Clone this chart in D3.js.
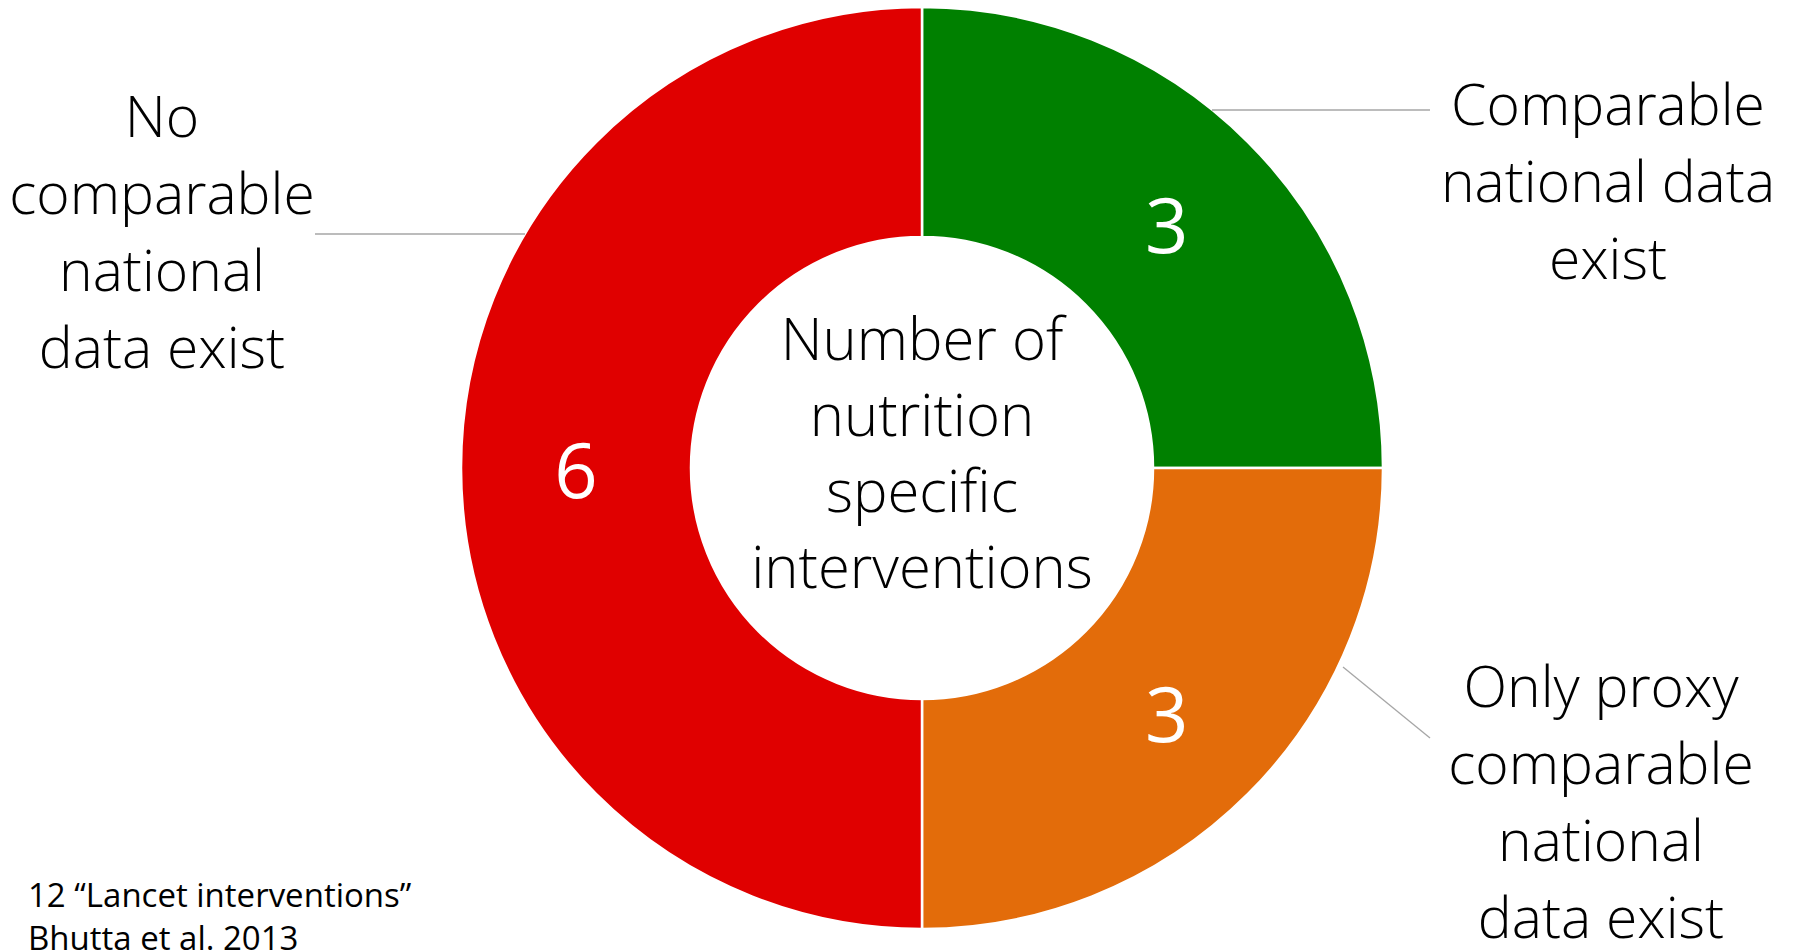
<!DOCTYPE html>
<html>
<head>
<meta charset="utf-8">
<script src="https://cdn.jsdelivr.net/npm/d3@7"></script>
<style>
  html, body { margin: 0; padding: 0; background: #ffffff; }
  svg { display: block; }
  text { font-family: "Open Sans", "DejaVu Sans", sans-serif; }
</style>
</head>
<body>
<svg id="chart" width="1794" height="951"></svg>
<script>
// ---- data ----
const categories = ["Comparable national data exist", "Only proxy comparable national data exist", "No comparable national data exist"];
const values = [3, 3, 6];
const colors = ["#008000", "#E36C0A", "#E00000"];
const labelLines = [
  ["Comparable", "national data", "exist"],
  ["Only proxy", "comparable", "national", "data exist"],
  ["No", "comparable", "national", "data exist"]
];
const centerLines = ["Number of", "nutrition", "specific", "interventions"];
const footnoteLines = ["12 \u201CLancet interventions\u201D", "Bhutta et al. 2013"];

// ---- layout ----
const W = 1794, H = 951;
const cx = 922, cy = 468;
const outerR = 461, innerR = 231;
const labelR = (outerR + innerR) / 2;
const lineH = 77;
// category label anchors (center x, first baseline y) and leader line ends
const labelLayout = [
  { x: 1608, y: 125, leader: [[1212, 110], [1430, 110]] },
  { x: 1601, y: 707, leader: [[1343, 667], [1430, 738]] },
  { x: 162,  y: 137, leader: [[525, 234], [315, 234]] }
];

const svg = d3.select("#chart");
const g = svg.append("g").attr("transform", `translate(${cx},${cy})`);

const pie = d3.pie().sort(null).value(d => d);
const arcs = pie(values);
const arc = d3.arc().innerRadius(innerR).outerRadius(outerR);
const labelArc = d3.arc().innerRadius(labelR).outerRadius(labelR);

g.selectAll("path.slice")
  .data(arcs)
  .join("path")
  .attr("class", "slice")
  .attr("d", arc)
  .attr("fill", (d, i) => colors[i])
  .attr("stroke", "#ffffff")
  .attr("stroke-width", 2.5);

g.selectAll("text.value")
  .data(arcs)
  .join("text")
  .attr("class", "value")
  .attr("x", d => labelArc.centroid(d)[0])
  .attr("y", d => labelArc.centroid(d)[1])
  .attr("text-anchor", "middle")
  .attr("dominant-baseline", "central")
  .attr("fill", "#ffffff")
  .attr("font-size", 76)
  .text(d => d.data);

// center text
const ct = svg.append("text")
  .attr("text-anchor", "middle")
  .attr("font-size", 58)
  .attr("font-weight", 300)
  .attr("fill", "#000");
centerLines.forEach((t, i) => {
  ct.append("tspan").attr("x", cx).attr("y", 360 + i * 76).text(t);
});

// leader lines
svg.selectAll("line.leader")
  .data(labelLayout)
  .join("line")
  .attr("class", "leader")
  .attr("x1", d => d.leader[0][0]).attr("y1", d => d.leader[0][1])
  .attr("x2", d => d.leader[1][0]).attr("y2", d => d.leader[1][1])
  .attr("stroke", "#A6A6A6")
  .attr("stroke-width", 1.3);

// category labels
labelLayout.forEach((L, k) => {
  const t = svg.append("text")
    .attr("text-anchor", "middle")
    .attr("font-size", 57)
    .attr("font-weight", 300)
    .attr("fill", "#000");
  labelLines[k].forEach((line, i) => {
    t.append("tspan").attr("x", L.x).attr("y", L.y + i * lineH).text(line);
  });
});

// footnote
const fn = svg.append("text")
  .attr("font-size", 33)
  .attr("fill", "#000");
footnoteLines.forEach((line, i) => {
  fn.append("tspan").attr("x", 28).attr("y", 907 + i * 43).text(line);
});
</script>
</body>
</html>
